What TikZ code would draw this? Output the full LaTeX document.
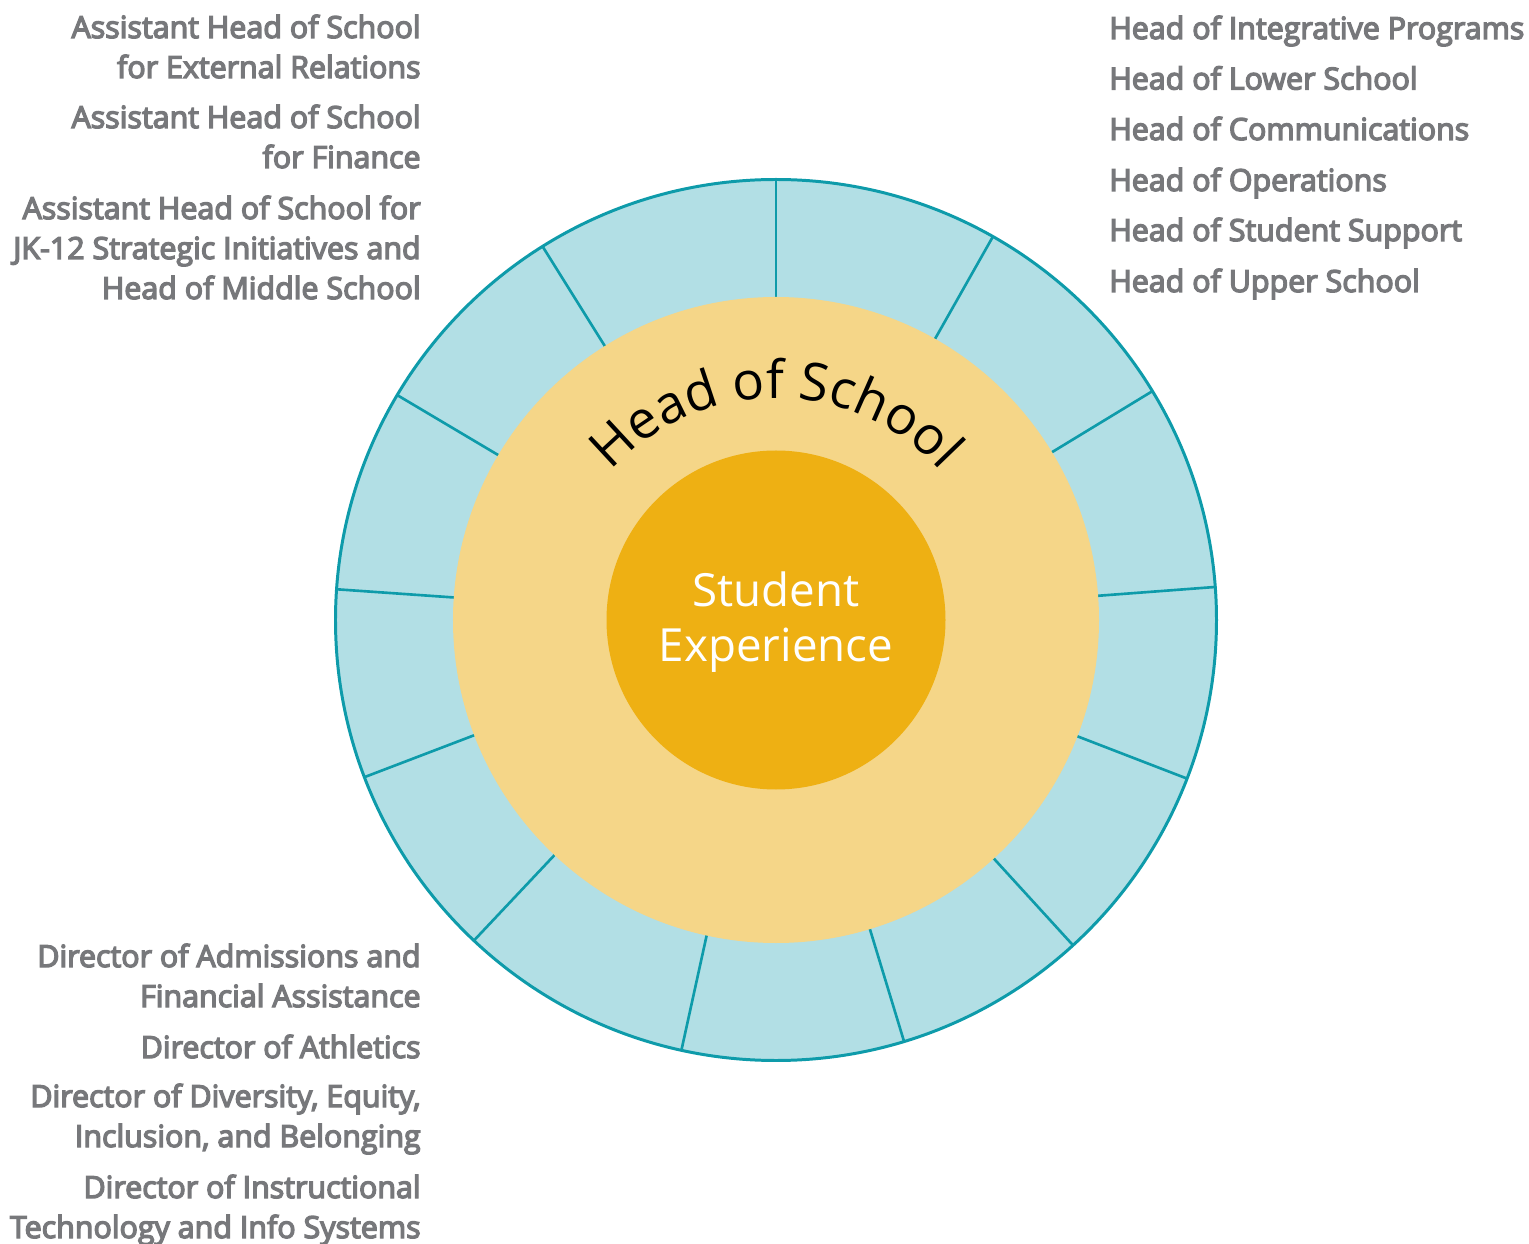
\documentclass[tikz,border=0pt]{standalone}
\usepackage{fontspec}
\setmainfont{Open Sans}
\newfontfamily\rolefont{Open Sans}[FakeBold=4.5]
\usetikzlibrary{decorations.text}

\definecolor{ringblue}{HTML}{B2DFE5}
\definecolor{ringline}{HTML}{0E9BAA}
\definecolor{headyellow}{HTML}{F5D688}
\definecolor{coreorange}{HTML}{EEB013}
\definecolor{rolegray}{HTML}{77787B}

\tikzset{
  role/.style={font=\rolefont\fontsize{17.3}{22.76}\selectfont, text=rolegray,
    inner sep=0pt, align=right},
  spoke/.style={ringline, line width=1.5pt},
  core/.style={font=\fontsize{26}{31.3}\selectfont, text=white, align=center,
    inner sep=0pt}
}

\begin{document}
\begin{tikzpicture}
  \useasboundingbox (-15.52,-12.46) rectangle (15.06,12.4);
  % outer ring of roles
  \fill[ringblue] (0,0) circle (8.81);
  \draw[ringline, line width=1.7pt] (0,0) circle (8.81);
  \foreach \a in {90,60.5,31.3,4.3,-21.1,-47.6,-73.1,-102.4,-133.3,-159.1,176,149.3,122}
    \draw[spoke] (\a:6.3) -- (\a:8.81);
  % head of school and centre
  \fill[headyellow] (0,0) circle (6.46);
  \fill[coreorange] (0,0) circle (3.39);
  \path[decorate, decoration={text along path, text align=center,
    text={|\fontsize{30}{36}\selectfont|Head of School}}]
    (180:4.44) arc (180:0:4.44);
  \node[core] (core) at (0,-0.04) {Student\\Experience};
  % heads, right
  \node[role, anchor=base west] (integ) at (6.66,11.62) {Head of Integrative Programs};
  \node[role, anchor=base west] (lower) at (6.66,10.61) {Head of Lower School};
  \node[role, anchor=base west] (comms) at (6.66,9.60) {Head of Communications};
  \node[role, anchor=base west] (ops) at (6.66,8.58) {Head of Operations};
  \node[role, anchor=base west] (support) at (6.66,7.58) {Head of Student Support};
  \node[role, anchor=base west] (upper) at (6.66,6.56) {Head of Upper School};
  % assistant heads, left (base = last line)
  \node[role, anchor=base east] (extrel) at (-7.1,10.84) {Assistant Head of School\\for External Relations};
  \node[role, anchor=base east] (finance) at (-7.1,9.04) {Assistant Head of School\\for Finance};
  \node[role, anchor=base east] (middle) at (-7.1,6.42) {Assistant Head of School for\\JK-12 Strategic Initiatives and\\Head of Middle School};
  % directors, left
  \node[role, anchor=base east] (admit) at (-7.1,-7.74) {Director of Admissions and\\Financial Assistance};
  \node[role, anchor=base east] (sport) at (-7.1,-8.76) {Director of Athletics};
  \node[role, anchor=base east] (deib) at (-7.1,-10.54) {Director of Diversity, Equity,\\Inclusion, and Belonging};
  \node[role, anchor=base east] (tech) at (-7.1,-12.36) {Director of Instructional\\Technology and Info Systems};
\end{tikzpicture}
\end{document}
